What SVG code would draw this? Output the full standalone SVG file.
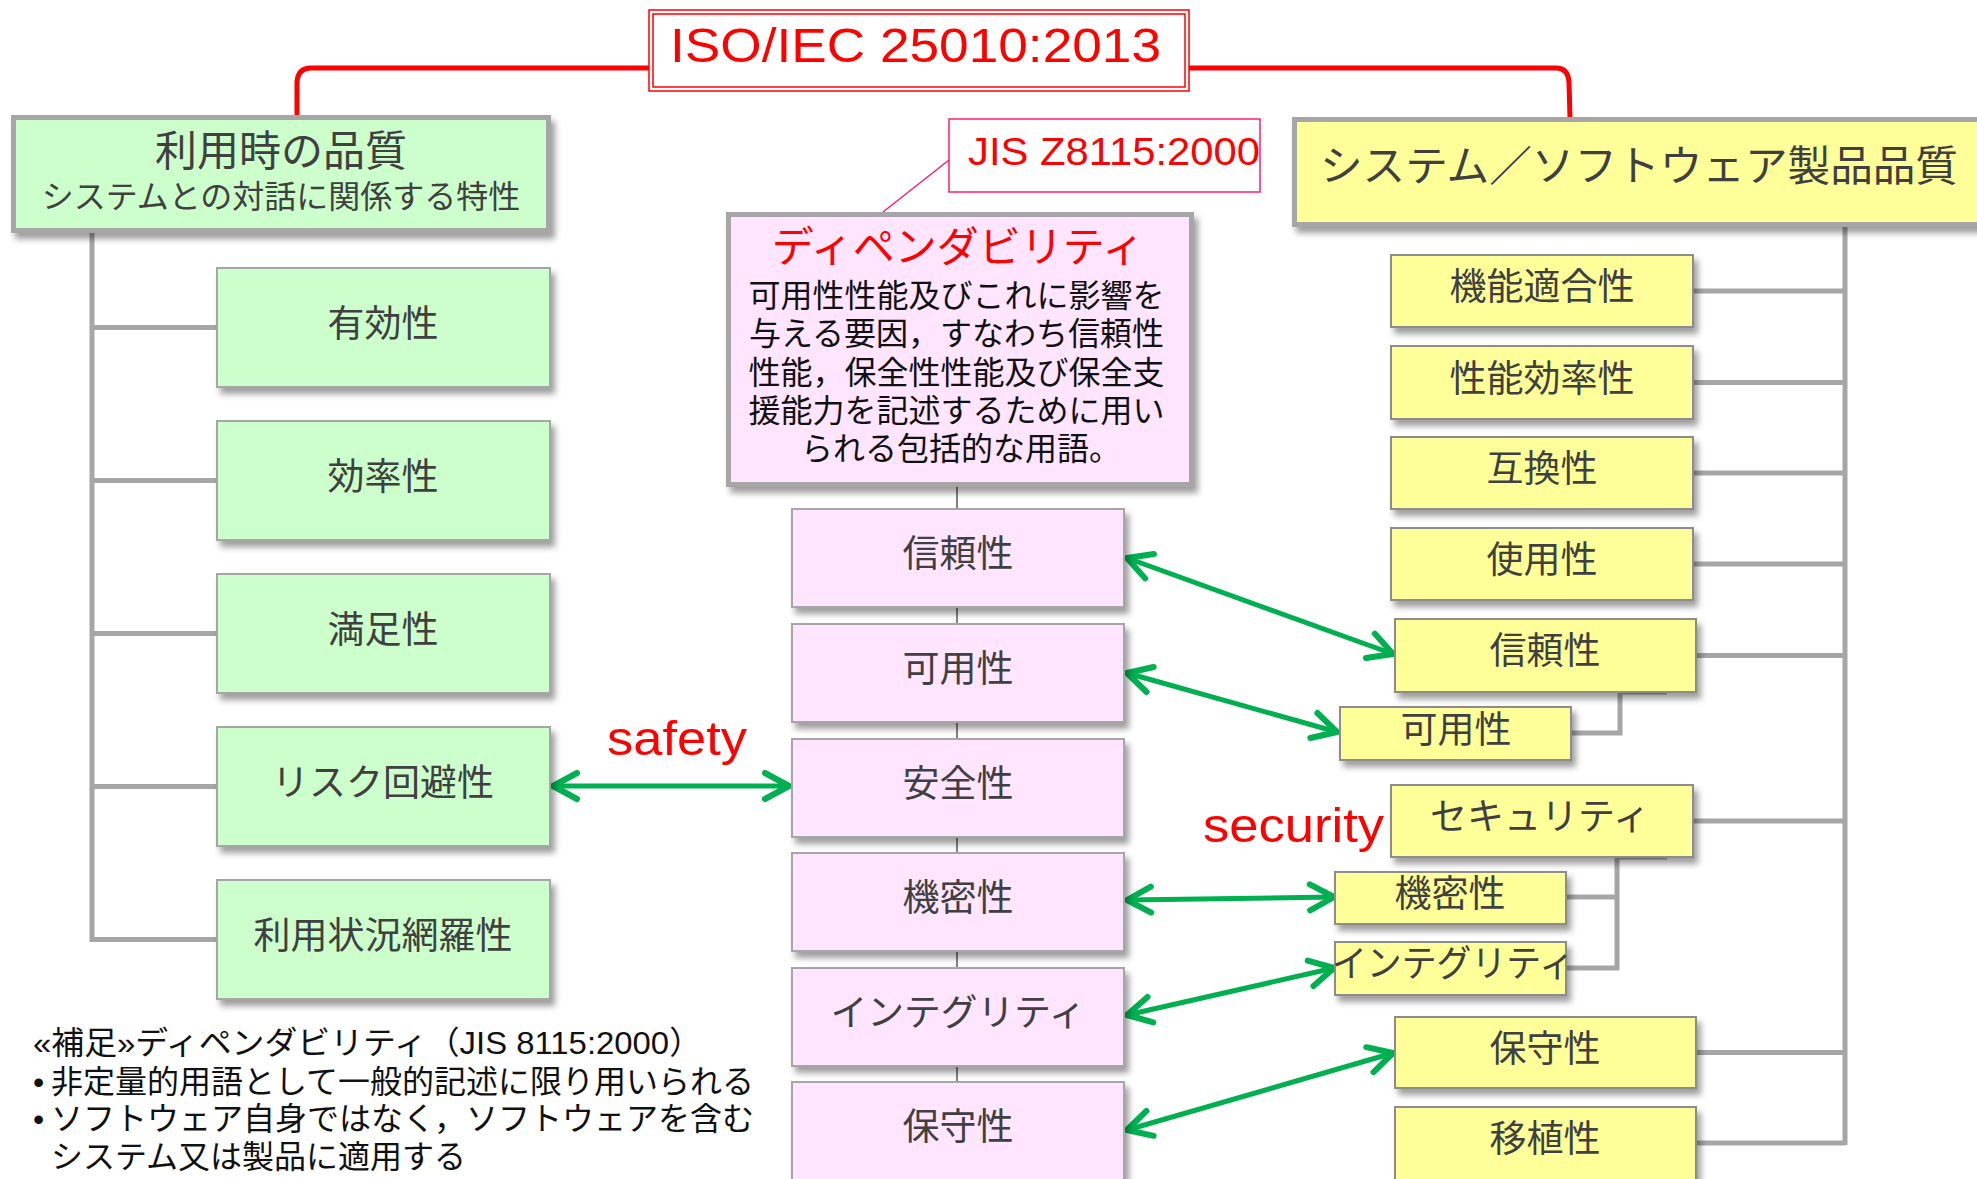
<svg xmlns="http://www.w3.org/2000/svg" width="1977" height="1179" viewBox="0 0 1977 1179">
<style>
text{font-family:"Liberation Sans","Noto Sans CJK JP",sans-serif;}
.lbl{font-size:37px;fill:#404040;text-anchor:middle;}
.green{fill:#ccffcc;stroke:#a6a6a6;stroke-width:2;}
.yel{fill:#ffff99;stroke:#8c8c8c;stroke-width:2;}
.pink{fill:#ffe5ff;stroke:#a6a6a6;stroke-width:2;}
.big{stroke:#a6a6a6;stroke-width:5;}
.tree{fill:none;stroke:#a6a6a6;stroke-width:5;}
.arr{fill:none;stroke:#00b050;stroke-width:5;stroke-linecap:round;marker-start:url(#ah);marker-end:url(#ah);}
.red{fill:#ff0000;}
.note{font-size:32px;fill:#111;}
</style>
<defs>
<filter id="sh" x="-10%" y="-10%" width="130%" height="140%"><feDropShadow dx="4" dy="6" stdDeviation="3" flood-color="#000" flood-opacity="0.38"/></filter>
<marker id="ah" viewBox="-30 -16 34 32" refX="0" refY="0" markerWidth="34" markerHeight="32" markerUnits="userSpaceOnUse" orient="auto-start-reverse" overflow="visible"><path d="M-24,-13 L0,0 L-24,13" fill="none" stroke="#00b050" stroke-width="6" stroke-linecap="round" stroke-linejoin="round"/></marker>
</defs>
<rect width="1977" height="1179" fill="#ffffff"/>

<g id="connectors">
<path d="M297,115 L297,82 Q298,68 311,68 L649,68" fill="none" stroke="#ff0000" stroke-width="5"/>
<path d="M1189,68 L1556,68 Q1568,68 1569,82 L1570,118" fill="none" stroke="#ff0000" stroke-width="5"/>
<path class="tree" d="M92,231 V942 M92,327.5 H217 M92,480.5 H217 M92,633.5 H217 M92,786.5 H217 M92,939.5 H217"/>
<path class="tree" d="M1845,225 V1145 M1693,291 H1845 M1693,382.5 H1845 M1693,473 H1845 M1693,564 H1845 M1696,655.5 H1845 M1693,821 H1845 M1696,1052.5 H1845 M1696,1143 H1845"/>
<path class="tree" d="M1667,692 H1620 V733 H1571"/>
<path class="tree" d="M1667,857 H1617 V968 H1566 M1617,897 H1566"/>
<line x1="957" y1="487" x2="957" y2="1100" stroke="#595959" stroke-width="1.5"/>
<line x1="949" y1="160" x2="883" y2="212" stroke="#ff1a75" stroke-width="1.5"/>
<line class="arr" x1="553" y1="786" x2="789" y2="786"/>
<line class="arr" x1="1127" y1="558" x2="1393" y2="654"/>
<line class="arr" x1="1127" y1="673" x2="1337" y2="732"/>
<line class="arr" x1="1127" y1="900" x2="1334" y2="897"/>
<line class="arr" x1="1127" y1="1015" x2="1334" y2="968"/>
<line class="arr" x1="1127" y1="1130" x2="1393" y2="1053"/>
</g>

<g id="iso">
<rect x="649" y="10" width="540" height="81" fill="#ffffff" stroke="#ff0000" stroke-width="1.5"/>
<rect x="653" y="14" width="532" height="73" fill="none" stroke="#ff0000" stroke-width="1.5"/>
<text x="670" y="62" font-size="48" class="red" textLength="491" lengthAdjust="spacingAndGlyphs">ISO/IEC 25010:2013</text>
</g>

<g id="quality-in-use">
<rect x="13.5" y="117.5" width="535" height="113" fill="#ccffcc" class="big" filter="url(#sh)"/>
<text x="281" y="166" font-size="42" fill="#404040" text-anchor="middle">利用時の品質</text>
<text x="281" y="208" font-size="32" fill="#404040" text-anchor="middle">システムとの対話に関係する特性</text>
</g>
<g id="q1"><rect class="green" x="217" y="268" width="333" height="119" filter="url(#sh)"/><text class="lbl" x="383" y="337">有効性</text></g>
<g id="q2"><rect class="green" x="217" y="421" width="333" height="119" filter="url(#sh)"/><text class="lbl" x="383" y="490">効率性</text></g>
<g id="q3"><rect class="green" x="217" y="574" width="333" height="119" filter="url(#sh)"/><text class="lbl" x="383" y="643">満足性</text></g>
<g id="q4"><rect class="green" x="217" y="727" width="333" height="119" filter="url(#sh)"/><text class="lbl" x="383" y="796">リスク回避性</text></g>
<g id="q5"><rect class="green" x="217" y="880" width="333" height="119" filter="url(#sh)"/><text class="lbl" x="383" y="949">利用状況網羅性</text></g>

<g id="jis">
<rect x="949" y="119" width="311" height="73" fill="#ffffff" stroke="#ff1a75" stroke-width="1.5"/>
<text x="968" y="165" font-size="38" class="red" textLength="292" lengthAdjust="spacingAndGlyphs">JIS Z8115:2000</text>
</g>

<g id="dependability">
<rect x="728.5" y="214.5" width="463" height="270" fill="#ffe5ff" class="big" filter="url(#sh)"/>
<text x="958" y="262" font-size="42" class="red" text-anchor="middle">ディペンダビリティ</text>
<text font-size="32" fill="#111" text-anchor="middle">
<tspan x="961" y="307">可用性性能及びこれに影響を</tspan>
<tspan x="961" y="345">与える要因，すなわち信頼性</tspan>
<tspan x="961" y="384">性能，保全性性能及び保全支</tspan>
<tspan x="961" y="422">援能力を記述するために用い</tspan>
<tspan x="961" y="460">られる包括的な用語。</tspan>
</text>
</g>
<g id="d1"><rect class="pink" x="792" y="509" width="332" height="98" filter="url(#sh)"/><text class="lbl" x="958" y="567">信頼性</text></g>
<g id="d2"><rect class="pink" x="792" y="624" width="332" height="98" filter="url(#sh)"/><text class="lbl" x="958" y="682">可用性</text></g>
<g id="d3"><rect class="pink" x="792" y="739" width="332" height="98" filter="url(#sh)"/><text class="lbl" x="958" y="797">安全性</text></g>
<g id="d4"><rect class="pink" x="792" y="853" width="332" height="98" filter="url(#sh)"/><text class="lbl" x="958" y="911">機密性</text></g>
<g id="d5"><rect class="pink" x="792" y="968" width="332" height="98" filter="url(#sh)"/><text class="lbl" x="958" y="1026" textLength="255" lengthAdjust="spacingAndGlyphs">インテグリティ</text></g>
<g id="d6"><rect class="pink" x="792" y="1082" width="332" height="110" filter="url(#sh)"/><text class="lbl" x="958" y="1140">保守性</text></g>

<g id="product-quality">
<rect x="1294.5" y="119.5" width="700" height="105" fill="#ffff99" class="big" filter="url(#sh)"/>
<text x="1320" y="181" font-size="42" fill="#404040" textLength="638" lengthAdjust="spacingAndGlyphs">システム／ソフトウェア製品品質</text>
</g>
<g id="p1"><rect class="yel" x="1391" y="255" width="302" height="72" filter="url(#sh)"/><text class="lbl" x="1542" y="300">機能適合性</text></g>
<g id="p2"><rect class="yel" x="1391" y="346" width="302" height="73" filter="url(#sh)"/><text class="lbl" x="1542" y="392">性能効率性</text></g>
<g id="p3"><rect class="yel" x="1391" y="437" width="302" height="72" filter="url(#sh)"/><text class="lbl" x="1542" y="482">互換性</text></g>
<g id="p4"><rect class="yel" x="1391" y="528" width="302" height="72" filter="url(#sh)"/><text class="lbl" x="1542" y="573">使用性</text></g>
<g id="p5"><rect class="yel" x="1395" y="619" width="301" height="73" filter="url(#sh)"/><text class="lbl" x="1545" y="664">信頼性</text></g>
<g id="p5a"><rect class="yel" x="1340" y="707" width="231" height="53" filter="url(#sh)"/><text class="lbl" x="1456" y="743">可用性</text></g>
<g id="p6"><rect class="yel" x="1391" y="785" width="302" height="72" filter="url(#sh)"/><text class="lbl" x="1540" y="830">セキュリティ</text></g>
<g id="p6a"><rect class="yel" x="1335" y="872" width="231" height="52" filter="url(#sh)"/><text class="lbl" x="1450" y="907">機密性</text></g>
<g id="p6b"><rect class="yel" x="1335" y="942" width="231" height="53" filter="url(#sh)"/><text class="lbl" x="1453" y="977" textLength="242" lengthAdjust="spacingAndGlyphs">インテグリティ</text></g>
<g id="p7"><rect class="yel" x="1395" y="1017" width="301" height="71" filter="url(#sh)"/><text class="lbl" x="1545" y="1062">保守性</text></g>
<g id="p8"><rect class="yel" x="1395" y="1107" width="301" height="80" filter="url(#sh)"/><text class="lbl" x="1545" y="1152">移植性</text></g>

<g id="labels">
<text x="607" y="755" font-size="48" class="red" textLength="140" lengthAdjust="spacingAndGlyphs">safety</text>
<text x="1203" y="842" font-size="48" class="red" textLength="181" lengthAdjust="spacingAndGlyphs">security</text>
</g>

<g id="notes">
<text class="note" x="33" y="1054" textLength="669" lengthAdjust="spacingAndGlyphs">«補足»ディペンダビリティ（JIS 8115:2000）</text>
<text class="note" y="1093"><tspan x="33">•</tspan><tspan x="51">非定量的用語として一般的記述に限り用いられる</tspan></text>
<text class="note" y="1130"><tspan x="33">•</tspan><tspan x="51">ソフトウェア自身ではなく，ソフトウェアを含む</tspan></text>
<text class="note" x="51" y="1168">システム又は製品に適用する</text>
</g>
</svg>
